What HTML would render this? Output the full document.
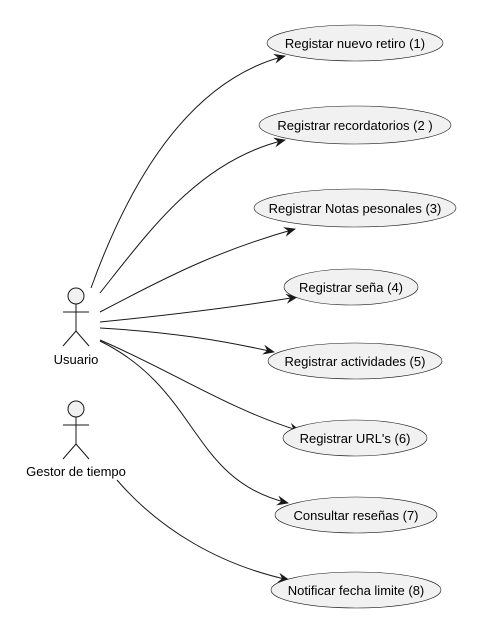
<!DOCTYPE html>
<html><head><meta charset="utf-8"><style>
html,body{margin:0;padding:0;background:#fff;}
svg{display:block;font-family:"Liberation Sans",sans-serif;}
</style></head><body>
<svg width="499" height="636" viewBox="0 0 499 636">
<defs>
<marker id="ah" viewBox="0 0 12 10" refX="11" refY="5" markerWidth="12" markerHeight="10" markerUnits="userSpaceOnUse" orient="auto">
<path d="M0,0 L12,5 L0,10 L4,5 Z" fill="#181818"/>
</marker>
</defs>
<g stroke="#181818" stroke-width="1" fill="none">
<circle cx="76" cy="296" r="8" fill="#f1f1f1"/>
<line x1="76" y1="304" x2="76" y2="331"/>
<line x1="63" y1="312" x2="89" y2="312"/>
<line x1="76" y1="331" x2="63" y2="346"/>
<line x1="76" y1="331" x2="89" y2="346"/>
</g>
<text x="76" y="364" font-size="13" text-anchor="middle" fill="#000">Usuario</text>
<g stroke="#181818" stroke-width="1" fill="none">
<circle cx="76" cy="409" r="8" fill="#f1f1f1"/>
<line x1="76" y1="417" x2="76" y2="444"/>
<line x1="63" y1="425" x2="89" y2="425"/>
<line x1="76" y1="444" x2="63" y2="459"/>
<line x1="76" y1="444" x2="89" y2="459"/>
</g>
<text x="76" y="476" font-size="13" text-anchor="middle" fill="#000">Gestor de tiempo</text>
<g stroke="#181818" stroke-width="1" fill="none" marker-end="url(#ah)">
<path d="M91,288 C130,180 190,80 285,56"/>
<path d="M100,293 C150,230 200,160 285,140"/>
<path d="M100,312 C170,275 220,250 295,229"/>
<path d="M100,322 C170,315 230,308 297,297"/>
<path d="M100,328 C170,332 220,340 274,352"/>
<path d="M100,340 C170,370 230,410 300,431"/>
<path d="M100,341 C200,390 190,480 288,503"/>
<path d="M117,480 C160,530 220,565 289,580"/>
</g>
<g fill="#f1f1f1" stroke="#181818" stroke-width="0.6">
<ellipse cx="355" cy="43" rx="88" ry="18"/>
<ellipse cx="355" cy="125" rx="96" ry="19"/>
<ellipse cx="355" cy="208" rx="101" ry="19"/>
<ellipse cx="351" cy="287" rx="67" ry="18"/>
<ellipse cx="355" cy="361" rx="87" ry="18"/>
<ellipse cx="355" cy="438" rx="72" ry="18"/>
<ellipse cx="356" cy="515" rx="81" ry="18"/>
<ellipse cx="356" cy="590" rx="85" ry="18"/>
</g>
<g font-size="13" text-anchor="middle" fill="#000">
<text x="355" y="48">Registar nuevo retiro (1)</text>
<text x="355" y="130">Registrar recordatorios (2 )</text>
<text x="355" y="213">Registrar Notas pesonales (3)</text>
<text x="351" y="292">Registrar seña (4)</text>
<text x="355" y="366">Registrar actividades (5)</text>
<text x="355" y="443">Registrar URL's (6)</text>
<text x="356" y="520">Consultar reseñas (7)</text>
<text x="356" y="595">Notificar fecha limite (8)</text>
</g>
</svg>
</body></html>
